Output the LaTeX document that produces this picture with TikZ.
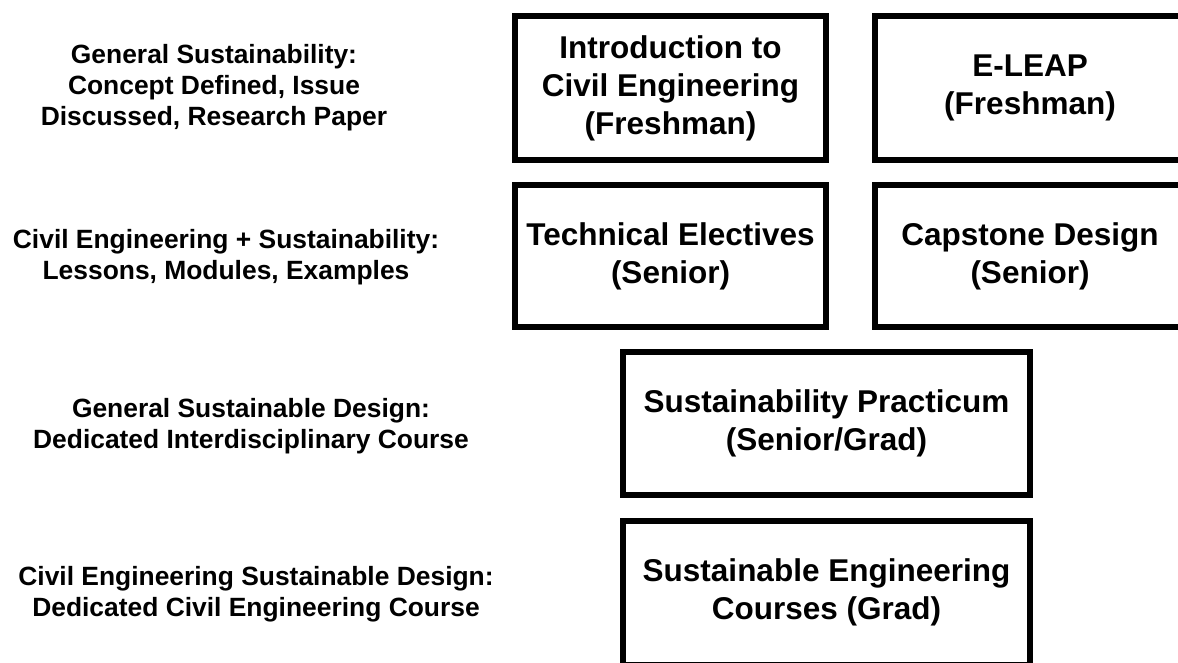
\documentclass[tikz,border=0pt]{standalone}
\usepackage{fontspec}
\setmainfont{Liberation Sans}
\begin{document}
\begin{tikzpicture}[x=1pt,y=-1pt,
  course/.style={draw=black, line width=6pt, inner sep=0pt, align=center,
    font=\fontsize{31.5}{38}\selectfont\bfseries, text=black},
  level/.style={inner sep=0pt, align=center,
    font=\fontsize{26.4}{31}\selectfont\bfseries, text=black}]
\useasboundingbox (0,0) rectangle (1178,662);
\clip (0,0) rectangle (1178,662);
\fill[white] (0,0) rectangle (1178,662);

% level descriptions on the left
\node[level] (lv1) at (214,88) {General Sustainability:\\Concept Defined, Issue\\Discussed, Research Paper};
\node[level] (lv2) at (226,257) {Civil Engineering + Sustainability:\\Lessons, Modules, Examples};
\node[level] (lv3) at (251,426) {General Sustainable Design:\\Dedicated Interdisciplinary Course};
\node[level] (lv4) at (256,594) {Civil Engineering Sustainable Design:\\Dedicated Civil Engineering Course};

% course boxes
\node[course, minimum width=311pt, minimum height=144pt] (intro) at (670.5,88) {Introduction to\\Civil Engineering\\(Freshman)};
\node[course, minimum width=310pt, minimum height=144pt] (eleap) at (1030,88) {E-LEAP\\(Freshman)};
\node[course, minimum width=311pt, minimum height=142pt] (tech) at (670.5,256) {Technical Electives\\(Senior)};
\node[course, minimum width=310pt, minimum height=142pt] (cap) at (1030,256) {Capstone Design\\(Senior)};
\node[course, minimum width=407pt, minimum height=143pt] (prac) at (826.5,423.5) {Sustainability Practicum\\(Senior/Grad)};
\node[course, minimum width=407pt, minimum height=143.5pt] (grad) at (826.5,592.75) {Sustainable Engineering\\Courses (Grad)};
\end{tikzpicture}
\end{document}
